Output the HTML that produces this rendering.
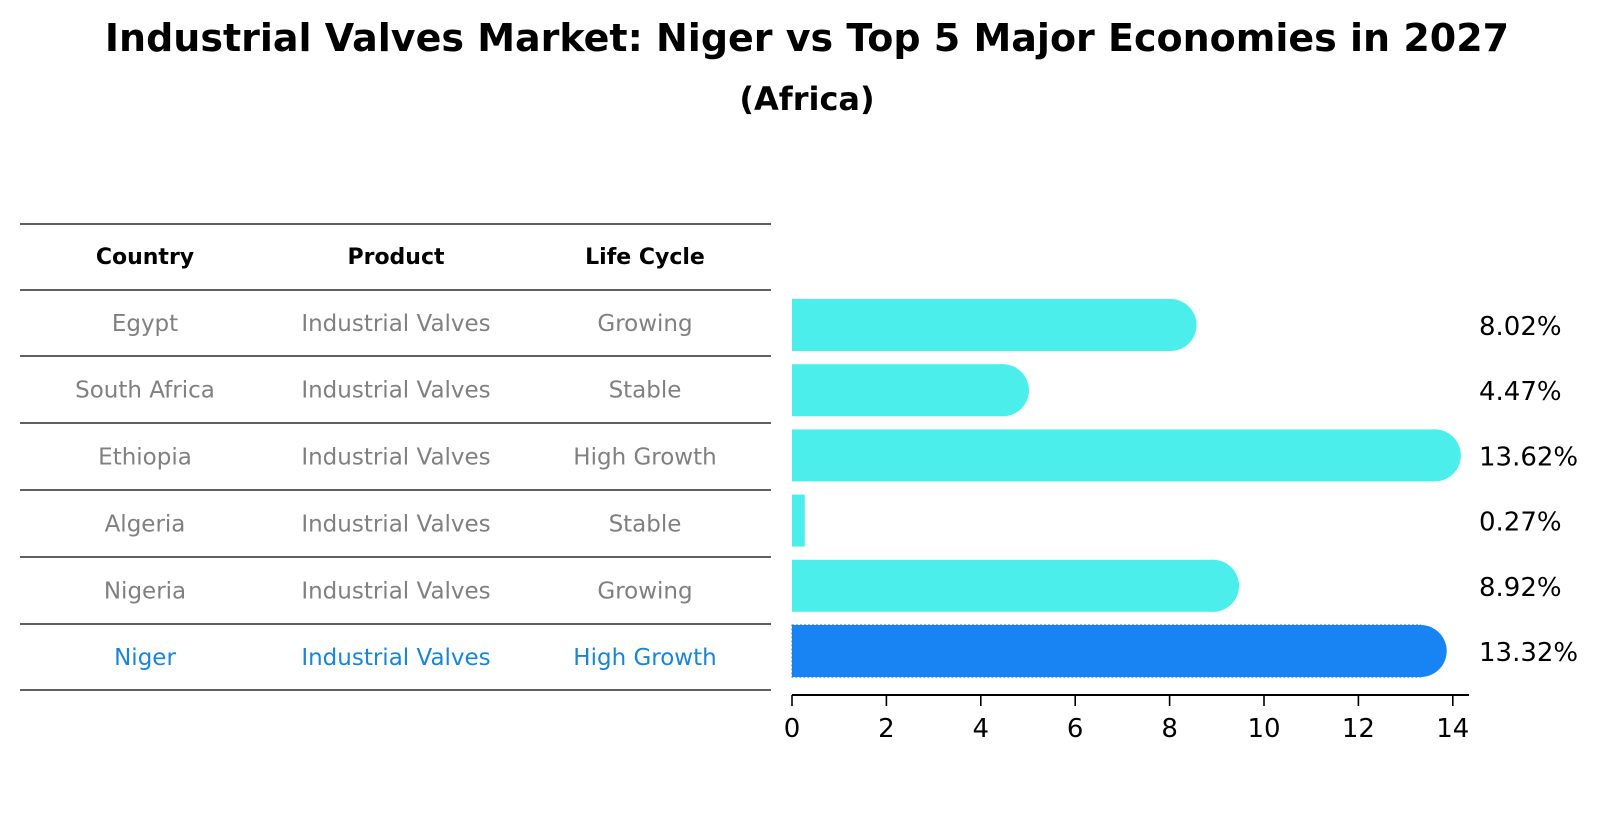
<!DOCTYPE html>
<html><head><meta charset="utf-8"><style>
body{margin:0;background:#fff;}
</style></head><body>
<svg width="1604" height="823" xmlns="http://www.w3.org/2000/svg" font-family="DejaVu Sans, Liberation Sans, sans-serif">
<text x="807" y="51" text-anchor="middle" font-size="38" font-weight="bold">Industrial Valves Market: Niger vs Top 5 Major Economies in 2027</text>
<text x="807" y="110" text-anchor="middle" font-size="32" font-weight="bold">(Africa)</text>
<g id="table"></g>
<g id="bars"></g>
</svg>
<script>
const countries=["Egypt","South Africa","Ethiopia","Algeria","Nigeria","Niger"];
const products=["Industrial Valves","Industrial Valves","Industrial Valves","Industrial Valves","Industrial Valves","Industrial Valves"];
const lifeCycles=["Growing","Stable","High Growth","Stable","Growing","High Growth"];
const values=[8.02,4.47,13.62,0.27,8.92,13.32];
const ticks=[0,2,4,6,8,10,12,14];
const NS="http://www.w3.org/2000/svg";
function mk(t,a,p){const e=document.createElementNS(NS,t);for(const k in a)e.setAttribute(k,a[k]);p.appendChild(e);return e;}
const tbl=document.getElementById('table'), bars=document.getElementById('bars');
const lineY=[224,290,356,423,490,557,624,690];
const colX=[145,396,645];
lineY.forEach(y=>{const l=mk('line',{x1:20,x2:771,y1:y,y2:y,stroke:'#000','stroke-width':1.2},tbl);

});
["Country","Product","Life Cycle"].forEach((h,i)=>{const t=mk('text',{x:colX[i],y:264,'text-anchor':'middle','font-size':22,'font-weight':'bold'},tbl);t.textContent=h;

});
const xs=v=>792+v*47.2;
const rowY=i=>325+65.2*i;
countries.forEach((c,i)=>{
 const hl=i===countries.length-1, col=hl?'#1a85d6':'#808080';
 const ty=(lineY[i+1]+lineY[i+2])/2;
 [c,products[i],lifeCycles[i]].forEach((s,j)=>{const t=mk('text',{x:colX[j],y:ty+8,'text-anchor':'middle','font-size':23,fill:col},tbl);t.textContent=s;
 
 });
 const cy=rowY(i), h=52, fill=hl?'#1884f4':'#4beeea';
 const g=mk('g',{},bars);
 
 
 mk('rect',{x:xs(0),y:cy-h/2,width:xs(values[i])-xs(0),height:h,fill:fill,stroke:hl?'#1570d0':'none','stroke-dasharray':'2,2'},g);
 if(values[i]>1) mk('circle',{cx:xs(values[i]),cy:cy,r:h/2,fill:fill},g);
 const t=mk('text',{x:1479,y:cy+10,'font-size':26},bars);t.textContent=values[i].toFixed(2)+'%';
 
 
});
const ax=mk('line',{x1:xs(0),x2:1469,y1:695,y2:695,stroke:'#000','stroke-width':2},bars);


ticks.forEach(v=>{mk('line',{x1:xs(v),x2:xs(v),y1:695,y2:706,stroke:'#000','stroke-width':1.6},bars);
 const t=mk('text',{x:xs(v),y:737,'text-anchor':'middle','font-size':26},bars);t.textContent=v;
 
 });
</script>
</body></html>
